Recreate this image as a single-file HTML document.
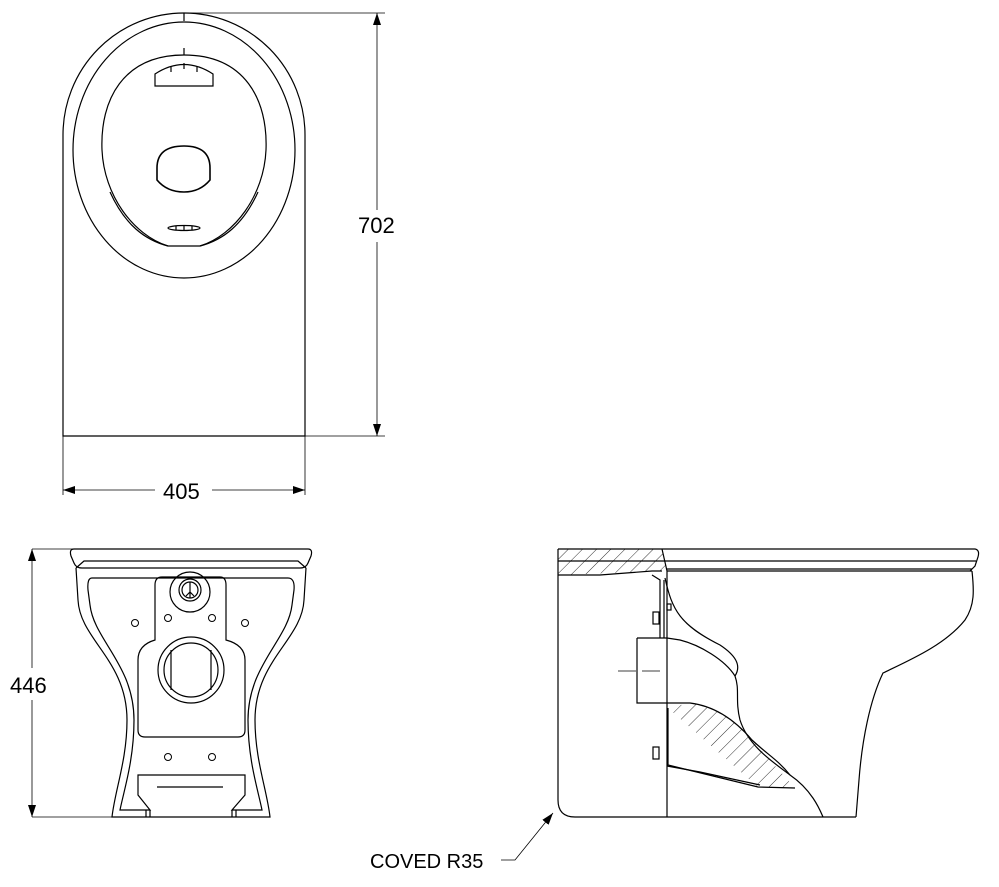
<!DOCTYPE html>
<html><head><meta charset="utf-8"><style>
html,body{margin:0;padding:0;background:#fff;}
svg{display:block;}
text{font-family:"Liberation Sans",sans-serif;fill:#000;}
</style></head><body>
<svg width="999" height="887" viewBox="0 0 999 887" xmlns="http://www.w3.org/2000/svg">
<defs>
<pattern id="h" width="10" height="10" patternUnits="userSpaceOnUse" patternTransform="rotate(45)">
<line x1="0" y1="0" x2="0" y2="10" stroke="#000" stroke-width="0.8"/>
</pattern>
<marker id="a" markerWidth="12" markerHeight="8" refX="12" refY="4" orient="auto" markerUnits="userSpaceOnUse">
<path d="M0,0 L12,4 L0,8 Z" fill="#000"/></marker>
</defs>
<g fill="none" stroke="#000" stroke-width="1.2">
<!-- TOP VIEW -->
<path d="M63,436 L63,135 A121,122 0 0 1 305,135 L305,436 Z"/>
<line x1="184" y1="13" x2="184" y2="21"/>
<ellipse cx="184" cy="150" rx="111" ry="128"/>
<path d="M184,55 C245,55 268,100 266,150 C264,195 235,235 200,246 L168,246 C133,235 104,195 102,150 C100,100 123,55 184,55 Z"/>
<path d="M110,192 C125,225 145,240 168,246 M258,192 C243,225 223,240 200,246"/>
<line x1="184" y1="48" x2="184" y2="55"/>
<path d="M155,86 L155,74 Q184,55 213,74 L213,86 Z"/>
<path d="M171,66 v6 M184,63 v6 M197,66 v6"/>
<path d="M157,180 L157,168 Q157,146 184,146 Q210,146 210,168 L210,180 Q200,192 184,192 Q167,192 157,180 Z" stroke-width="1.6"/>
<ellipse cx="184" cy="228" rx="16" ry="2.5"/>
<path d="M176,226v4M184,226v4M192,226v4"/>
<!-- dims top -->
<line x1="184" y1="13" x2="385" y2="13" stroke-width="0.8"/>
<line x1="305" y1="436" x2="385" y2="436" stroke-width="0.8"/>
<line x1="377" y1="210" x2="377" y2="13" stroke-width="0.8" marker-end="url(#a)"/>
<line x1="377" y1="242" x2="377" y2="436" stroke-width="0.8" marker-end="url(#a)"/>
<line x1="63" y1="436" x2="63" y2="495" stroke-width="0.8"/>
<line x1="305" y1="436" x2="305" y2="495" stroke-width="0.8"/>
<line x1="155" y1="490" x2="63" y2="490" stroke-width="0.8" marker-end="url(#a)"/>
<line x1="212" y1="490" x2="305" y2="490" stroke-width="0.8" marker-end="url(#a)"/>

<!-- FRONT VIEW -->
<path d="M74,549 L308,549 Q313,549 311,556 L308,563 Q306,568 300,568 L82,568 Q76,568 74,563 L71,556 Q69,549 74,549 Z"/>
<path d="M76,568 L84,561 L298,561 L306,568"/>
<path d="M76,568 L78,600 C80,640 127,660 127,720 C127,760 115,790 112,817 L270,817 C267,790 255,760 255,720 C255,660 302,640 304,600 L306,568"/>
<path d="M92,578 L288,578 Q295,578 294,590 L292,605 C288,640 248,665 248,720 C248,760 258,790 262,810 L232,810 L245,795 L245,775 L138,775 L138,795 L150,810 L120,810 C124,790 134,760 134,720 C134,665 94,640 90,605 L88,590 Q87,578 92,578 Z"/>
<path d="M162,577 L220,577 Q226,577 226,585 L226,640 Q245,645 245,660 L245,730 Q245,737 238,737 L145,737 Q138,737 138,730 L138,660 Q138,645 155,640 L155,585 Q155,577 162,577 Z"/>
<circle cx="191" cy="670" r="33"/>
<circle cx="191" cy="670" r="27"/>
<path d="M171,650 L171,690 M211,650 L211,690"/>
<circle cx="190" cy="592" r="20"/>
<circle cx="190" cy="590" r="11"/>
<circle cx="190" cy="590" r="8"/>
<path d="M190,582 L190,598 M186,596 L190,592 L194,596"/>
<g stroke-width="1"><circle cx="135" cy="623" r="3.5"/><circle cx="168" cy="618" r="3.5"/><circle cx="212" cy="618" r="3.5"/><circle cx="245" cy="623" r="3.5"/><circle cx="168" cy="757" r="3.5"/><circle cx="212" cy="757" r="3.5"/></g>
<line x1="157" y1="787" x2="223" y2="787"/>
<path d="M146,810 L146,817 M150,810 L150,817 M232,810 L232,817 M236,810 L236,817"/>
<!-- dims front -->
<line x1="32" y1="549" x2="75" y2="549" stroke-width="0.8"/>
<line x1="32" y1="817" x2="112" y2="817" stroke-width="0.8"/>
<line x1="32" y1="668" x2="32" y2="549" stroke-width="0.8" marker-end="url(#a)"/>
<line x1="32" y1="700" x2="32" y2="817" stroke-width="0.8" marker-end="url(#a)"/>

<!-- SIDE VIEW -->
<path d="M558,549 L662,549 L667,571 L558,575 Z" fill="url(#h)" stroke="none"/>
<path d="M558,549 L975,549 Q980,550 978,557 L975,566 L970,571"/>
<line x1="558" y1="561" x2="976" y2="561"/>
<line x1="662" y1="549" x2="667" y2="571"/>
<line x1="667" y1="571" x2="972" y2="571"/>
<line x1="667" y1="569" x2="972" y2="569"/>
<path d="M558,575 L600,575 L652,571 L662,571"/>
<path d="M558,549 L558,800 Q558,817 575,817 L856,817"/>
<line x1="667" y1="571" x2="667" y2="817"/>
<path d="M972,571 C974,590 975,605 965,620 C945,645 910,660 883,673 C870,700 862,740 859,780 L856,817"/>
<path d="M652,575 L660,580 L660,638 M664,580 L664,638"/>
<path d="M637,638 L667,638 L680,640 C700,645 725,660 735,676 C740,690 735,700 740,720 C748,745 770,760 790,775 C812,790 820,810 823,817"/>
<path d="M665,578 C672,610 680,625 720,645 C735,655 742,665 735,676"/>
<path d="M637,638 L637,703 L667,703"/>
<path d="M667,703 L690,703 C715,706 735,720 752,740 C768,755 778,760 790,775"/>
<path d="M668,708 L668,765 L758,787 L795,788"/>
<path d="M668,708 L690,703 C715,706 735,720 752,740 L795,788 L758,787 Z" fill="url(#h)" stroke="none"/>
<path d="M667,766 L700,772 L760,785" />
<line x1="618" y1="671" x2="660" y2="671" stroke-width="0.8" stroke-dasharray="18,6"/>
<rect x="653" y="612" width="6" height="12"/>
<rect x="653" y="747" width="6" height="12"/>
<rect x="667" y="604" width="4" height="6"/>
<!-- coved leader -->
<path d="M501,860 L515,860 L553,813" stroke-width="0.8" marker-end="url(#a)"/>
</g>
<text x="358" y="233" font-size="22">702</text>
<text x="163" y="499" font-size="22">405</text>
<text x="10" y="693" font-size="22">446</text>
<text x="370" y="868" font-size="20">COVED R35</text>
</svg>
</body></html>
